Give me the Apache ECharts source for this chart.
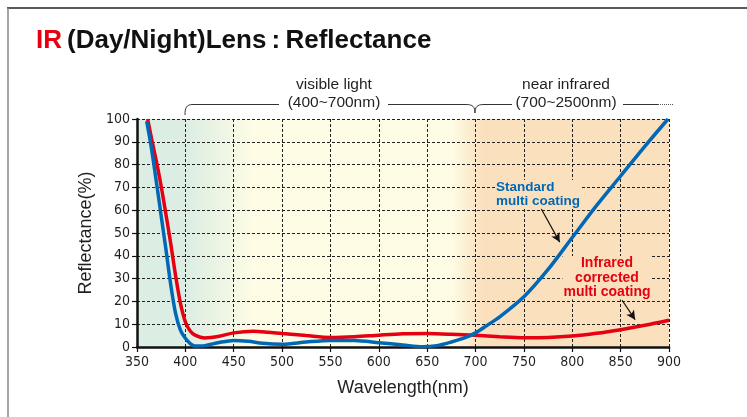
<!DOCTYPE html>
<html>
<head>
<meta charset="utf-8">
<script src="https://cdn.jsdelivr.net/npm/echarts@6/dist/echarts.min.js"></script>
<style>
  html, body { margin: 0; padding: 0; background: #fff; }
  #chart { width: 747px; height: 417px; }
</style>
</head>
<body>
<div id="chart"></div>
<script>
// standard multi coating (blue)
const stdNm  = [360, 365, 370, 375, 380, 385, 390, 395, 400, 405, 410, 420, 435, 450, 465, 480, 500, 525, 550, 575, 600, 625, 645, 660, 675, 690, 700, 712, 725, 750, 775, 800, 825, 850, 875, 899];
const stdVal = [99, 87, 72.5, 57.5, 42.5, 27, 14.5, 7.3, 3.8, 1.5, 0.4, 0.6, 2, 2.9, 2.5, 1.6, 1.2, 2.2, 2.9, 2.8, 1.9, 0.9, 0.1, 0.6, 2.2, 4.2, 6.2, 9.5, 13.2, 22, 34, 48, 62, 75, 88, 100];
// infrared corrected multi coating (red)
const irNm  = [361, 365, 370, 375, 380, 385, 390, 395, 400, 405, 410, 420, 435, 450, 470, 485, 500, 525, 550, 575, 600, 625, 650, 675, 700, 725, 750, 775, 800, 825, 850, 875, 900];
const irVal = [100, 91.5, 81.5, 70.5, 58, 45, 31, 19, 11, 7, 5.2, 4, 4.7, 6.2, 6.9, 6.5, 5.9, 5, 4.2, 4.5, 5.2, 5.8, 5.9, 5.6, 5.1, 4.5, 4.1, 4.2, 4.8, 6, 7.6, 9.5, 11.7];
// background bands: green (UV) -> pale yellow (visible) -> peach (near IR)
const bandNm     = [350, 400, 470, 675, 708, 900];
const bandColors = ['#dcede3', '#dcede3', '#fefce5', '#fefce5', '#fae0bd', '#fae0bd'];
// arrows pointing at curves [from, to] in [nm, %]
const stdArrow = [[768, 60.5], [787, 46]];
const irArrow  = [[851.5, 20.5], [865, 12]];

const zip = (a, b) => a.map((v, i) => [v, b[i]]);
const xMin = 350, xMax = 900;

const chart = echarts.init(document.getElementById('chart'));
const dash = { color: '#222', width: 1, type: [3, 2] };
const tickFont = { fontFamily: '"Liberation Sans Narrow", "DejaVu Sans Condensed", sans-serif', fontSize: 14, color: '#231f20' };
const bracket = { stroke: '#333', lineWidth: 1, fill: null };
const labelFont = '15.5px "Liberation Sans", Arial, sans-serif';
const peach = bandColors[bandColors.length - 1];

chart.setOption({
  animation: false,
  title: {
    left: 31, top: 23,
    text: '{r|IR} {k|(Day/Night)Lens\u2009:\u2009Reflectance}',
    textStyle: {
      rich: {
        r: { color: '#e60012', fontSize: 26, fontWeight: 'bold', fontFamily: 'Liberation Sans, Arial, sans-serif' },
        k: { color: '#111', fontSize: 26, fontWeight: 'bold', fontFamily: 'Liberation Sans, Arial, sans-serif' }
      }
    }
  },
  grid: {
    left: 137, right: 78, top: 119, bottom: 70,
    show: true, borderWidth: 0,
    backgroundColor: new echarts.graphic.LinearGradient(0, 0, 1, 0,
      bandNm.map((nm, i) => ({ offset: (nm - xMin) / (xMax - xMin), color: bandColors[i] })))
  },
  xAxis: {
    type: 'value', min: xMin, max: xMax, interval: 50,
    name: 'Wavelength(nm)', nameLocation: 'middle', nameGap: 32,
    nameTextStyle: { fontFamily: 'Liberation Sans, Arial, sans-serif', fontSize: 18, color: '#231f20' },
    axisLine: { onZero: false, lineStyle: { color: '#111', width: 2.5 } },
    axisTick: { length: 5, lineStyle: { color: '#111', width: 1.2 } },
    axisLabel: Object.assign({ margin: 8 }, tickFont),
    splitLine: { show: true, lineStyle: dash }
  },
  yAxis: {
    type: 'value', min: 0, max: 100, interval: 10,
    name: 'Reflectance(%)', nameLocation: 'middle', nameGap: 31,
    nameTextStyle: { fontFamily: 'Liberation Sans, Arial, sans-serif', fontSize: 18, color: '#231f20' },
    axisLine: { show: true, lineStyle: { color: '#111', width: 2.5 } },
    axisTick: { show: true, length: 5, lineStyle: { color: '#111', width: 1.2 } },
    axisLabel: Object.assign({ margin: 7 }, tickFont),
    splitLine: { show: true, lineStyle: dash }
  },
  series: [
    {
      name: 'Infrared corrected multi coating',
      type: 'line', smooth: 0.3, showSymbol: false,
      data: zip(irNm, irVal),
      lineStyle: { color: '#e60012', width: 3.5 },
      markLine: {
        silent: true, symbol: ['none', 'arrow'], symbolSize: [7, 9],
        label: { show: false },
        lineStyle: { color: '#111', width: 1.2, type: 'solid' },
        data: [[{ coord: irArrow[0] }, { coord: irArrow[1] }]]
      }
    },
    {
      name: 'Standard multi coating',
      type: 'line', smooth: 0.3, showSymbol: false,
      data: zip(stdNm, stdVal),
      lineStyle: { color: '#0068b7', width: 3.5 },
      markLine: {
        silent: true, symbol: ['none', 'arrow'], symbolSize: [7, 9],
        label: { show: false },
        lineStyle: { color: '#111', width: 1.2, type: 'solid' },
        data: [[{ coord: stdArrow[0] }, { coord: stdArrow[1] }]]
      }
    }
  ],
  graphic: [
    // outer frame
    { type: 'line', shape: { x1: 7, y1: 8, x2: 747, y2: 8 }, style: { stroke: '#222', lineWidth: 1.5 } },
    { type: 'line', shape: { x1: 8, y1: 8, x2: 8, y2: 417 }, style: { stroke: '#888', lineWidth: 1.5 } },
    // visible light bracket
    { type: 'bezierCurve', shape: { x1: 185, y1: 115, cpx1: 185, cpy1: 108, cpx2: 186, cpy2: 104.5, x2: 193, y2: 104.5 }, style: bracket },
    { type: 'line', shape: { x1: 193, y1: 104.5, x2: 279, y2: 104.5 }, style: bracket },
    { type: 'line', shape: { x1: 388, y1: 104.5, x2: 466, y2: 104.5 }, style: bracket },
    { type: 'bezierCurve', shape: { x1: 466, y1: 104.5, cpx1: 473, cpy1: 104.5, cpx2: 475, cpy2: 107, x2: 475, y2: 113 }, style: bracket },
    // near infrared bracket
    { type: 'bezierCurve', shape: { x1: 475, y1: 113, cpx1: 475, cpy1: 107, cpx2: 477, cpy2: 104.5, x2: 484, y2: 104.5 }, style: bracket },
    { type: 'line', shape: { x1: 484, y1: 104.5, x2: 512, y2: 104.5 }, style: bracket },
    { type: 'line', shape: { x1: 623, y1: 104.5, x2: 658, y2: 104.5 }, style: bracket },
    { type: 'line', shape: { x1: 658, y1: 104.5, x2: 673, y2: 104.5 }, style: { stroke: '#555', lineWidth: 1, lineDash: [1, 1] } },
    { type: 'text', x: 334, y: 85, style: { text: 'visible light', fill: '#231f20', font: labelFont, align: 'center', verticalAlign: 'middle' } },
    { type: 'text', x: 334, y: 103, style: { text: '(400~700nm)', fill: '#231f20', font: labelFont, align: 'center', verticalAlign: 'middle' } },
    { type: 'text', x: 566, y: 85, style: { text: 'near infrared', fill: '#231f20', font: labelFont, align: 'center', verticalAlign: 'middle' } },
    { type: 'text', x: 566, y: 103, style: { text: '(700~2500nm)', fill: '#231f20', font: labelFont, align: 'center', verticalAlign: 'middle' } },
    // curve labels
    { type: 'text', x: 495, y: 180, z: 10, style: { text: 'Standard\nmulti coating', fill: '#0068b7', font: 'bold 13.5px "Liberation Sans", Arial, sans-serif', lineHeight: 14, align: 'left', verticalAlign: 'top', backgroundColor: peach, padding: [0, 1] } },
    { type: 'text', x: 607, y: 256, z: 10, style: { text: 'Infrared\ncorrected\nmulti coating', fill: '#e60012', font: 'bold 14px "Liberation Sans", Arial, sans-serif', lineHeight: 14.5, align: 'center', verticalAlign: 'top', backgroundColor: peach, padding: [0, 1] } }
  ]
});
</script>
</body>
</html>
